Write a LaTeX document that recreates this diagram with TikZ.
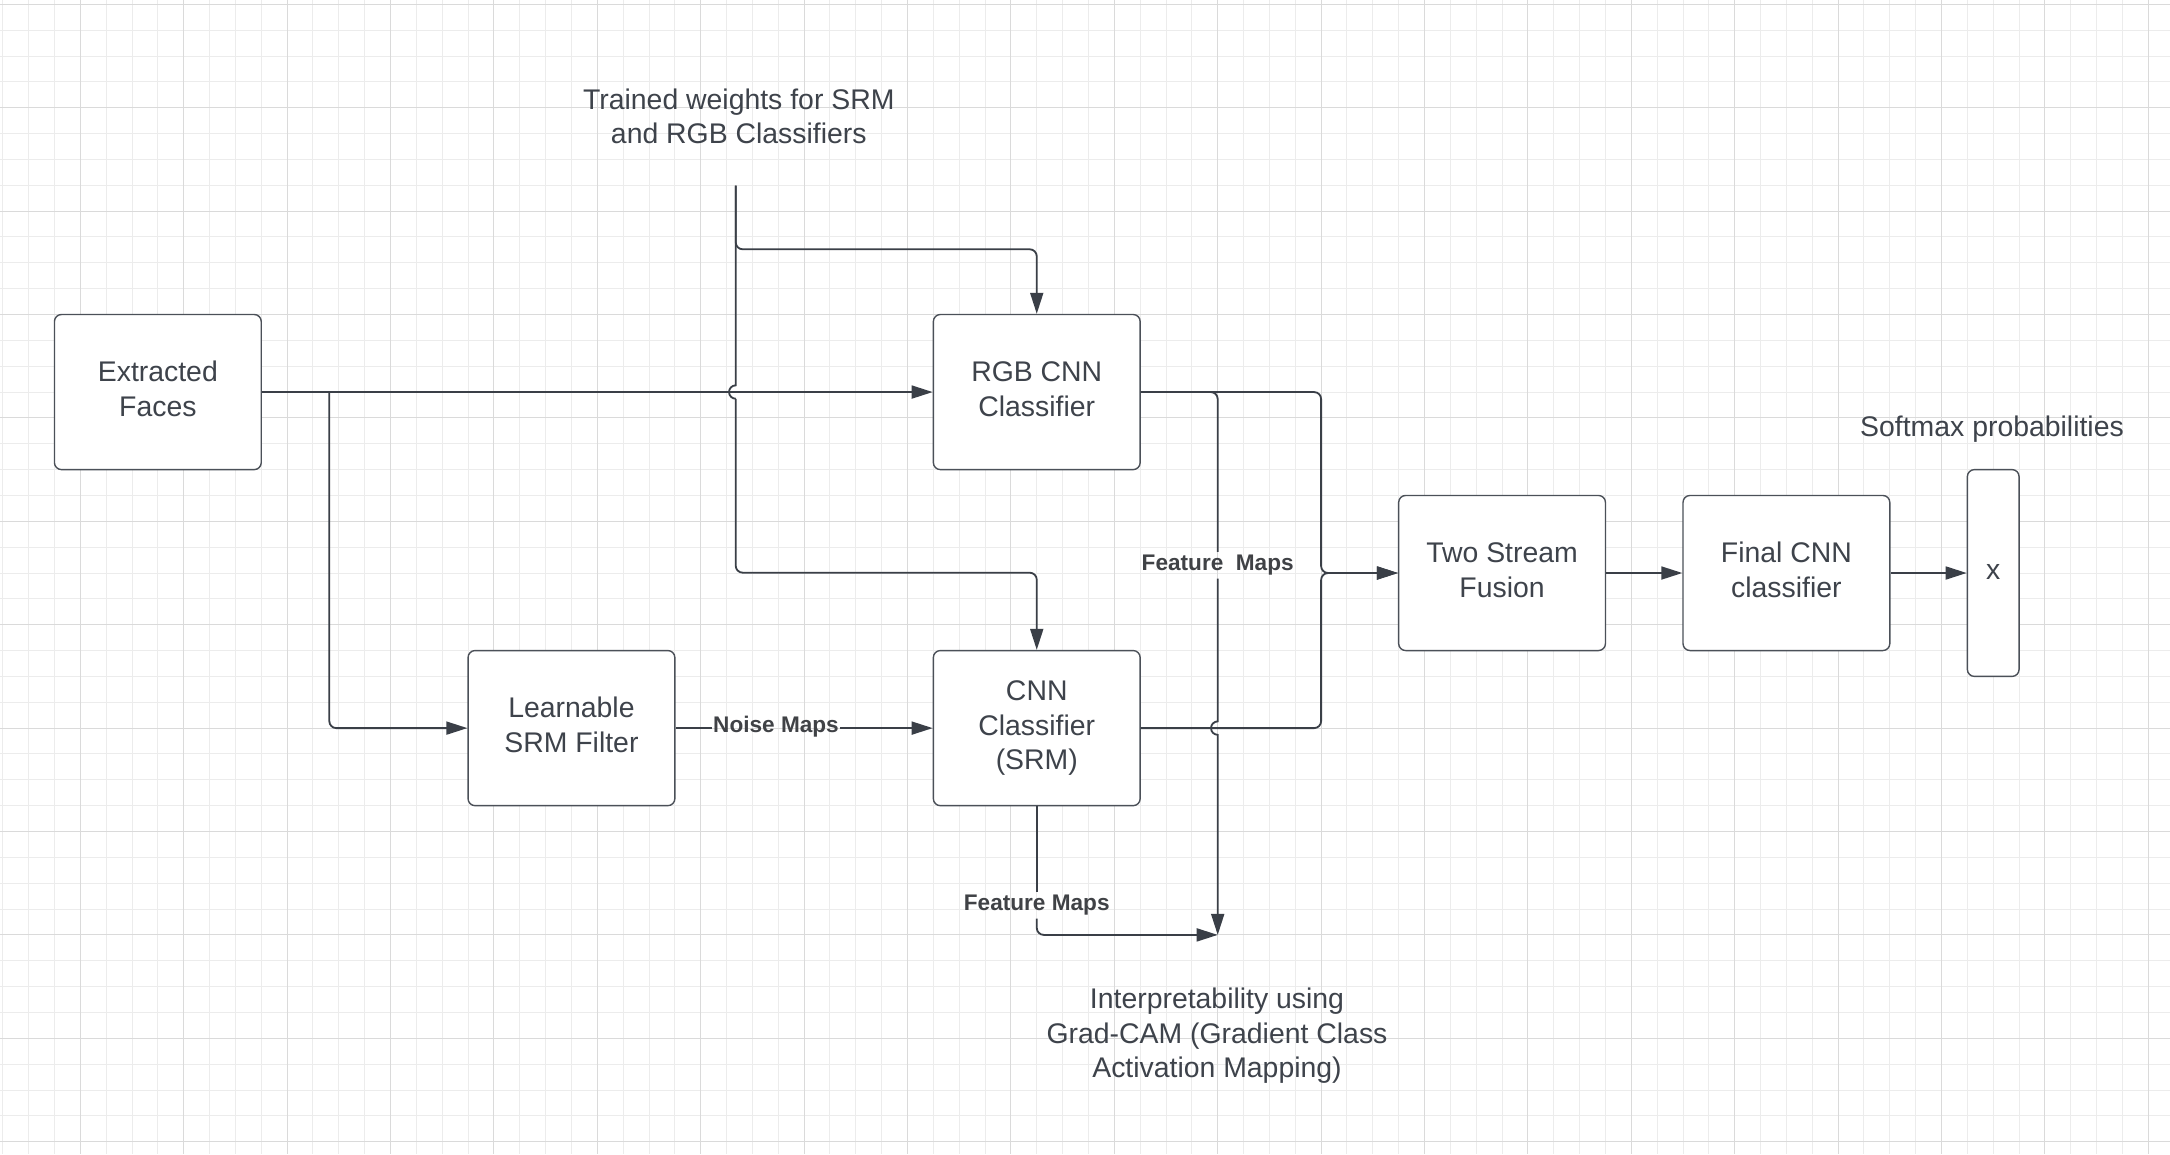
\documentclass[tikz,border=0pt]{standalone}
\usepackage{fontspec}
\setmainfont{Liberation Sans}
\usetikzlibrary{arrows.meta}
\definecolor{gridminor}{RGB}{236,236,236}
\definecolor{gridmajor}{RGB}{218,218,218}
\definecolor{linecol}{RGB}{58,63,71}
\definecolor{boxcol}{RGB}{75,80,88}
\definecolor{txtcol}{RGB}{62,67,75}
\definecolor{lblcol}{RGB}{64,66,70}
\begin{document}
\begin{tikzpicture}[x=1pt,y=-1pt,
  blk/.style={draw=boxcol, line width=1.4pt, rounded corners=7pt, fill=white,
    minimum width=206.8pt, minimum height=155.1pt, inner sep=0pt, align=center,
    text=txtcol, font=\fontsize{28.4}{34.5}\selectfont},
  txt/.style={inner sep=0pt, align=center, text=txtcol, font=\fontsize{28.4}{34.5}\selectfont},
  lbl/.style={inner xsep=1pt, inner ysep=3pt, text=lblcol, font=\bfseries\fontsize{22.6}{27}\selectfont},
  conn/.style={draw=linecol, line width=1.8pt},
  arr/.style={-{Triangle[length=21pt,width=13pt]}},
  gmin/.style={draw=gridminor, line width=1pt},
  gmaj/.style={draw=gridmajor, line width=1.3pt}]
\useasboundingbox (0,0) rectangle (2170,1154);
\fill[white] (0,0) rectangle (2170,1154);
% grid (snapped to pixel centres)
\foreach \k in {0,...,83} \draw[gmin] ({floor(2.75+25.85*\k)+0.5},0) -- ({floor(2.75+25.85*\k)+0.5},1154);
\foreach \j in {0,...,44} \draw[gmin] (0,{floor(4.3+25.85*\j)+0.5}) -- (2170,{floor(4.3+25.85*\j)+0.5});
\foreach \m in {0,...,20} \draw[gmaj] ({floor(80.3+103.4*\m)+0.5},0) -- ({floor(80.3+103.4*\m)+0.5},1154);
\foreach \m in {0,...,11} \draw[gmaj] (0,{floor(4.3+103.4*\m)+0.5}) -- (2170,{floor(4.3+103.4*\m)+0.5});

% boxes
\node[blk] (faces) at (157.85,392.05) {\strut Extracted\\Faces\strut};
\node[blk] (rgb) at (1036.75,392.05) {\strut RGB CNN\\Classifier\strut};
\node[blk] (srmf) at (571.45,728.1) {\strut Learnable\\SRM Filter\strut};
\node[blk] (srmcnn) at (1036.75,728.1) {\strut CNN\\Classifier\\(SRM)\strut};
\node[blk] (fusion) at (1502.05,573) {\strut Two Stream\\Fusion\strut};
\node[blk] (final) at (1786.4,573) {\strut Final CNN\\classifier\strut};
\node[blk, minimum width=51.7pt, minimum height=206.8pt] (xbox) at (1993.2,573) {\strut x\strut};

% free texts
\node[txt, anchor=north] (wtxt) at (738.8,84.85) {\strut Trained weights for SRM\\and RGB Classifiers\strut};
\node[txt, anchor=base] (soft) at (1992,436.7) {Softmax probabilities};
\node[txt] (gcam) at (1217,1036.5) {\strut Interpretability using\\Grad-CAM (Gradient Class\\Activation Mapping)\strut};

% connector labels
\node[lbl, anchor=base] (fm1) at (1217.7,570.7) {Feature\ \ Maps};
\node[lbl, anchor=base] (fm2) at (1036.75,910.7) {Feature Maps};
\node[lbl, anchor=base] (nm) at (776,732.5) {Noise Maps};

% coordinates
\coordinate (br) at (329.3,392.05);
\coordinate (wt) at (735.7,185.7);
\coordinate (wb) at (735.7,249.3);
\coordinate (wh) at (735.7,398.75);
\coordinate (gc) at (1217.7,934.9);

% Extracted faces -> RGB and -> SRM filter
\draw[conn,arr] (faces.east) -- (rgb.west);
\draw[conn,arr,rounded corners=7pt] (br) -- (br |- srmf.west) -- (srmf.west);

% SRM filter -> CNN (SRM)
\draw[conn] (srmf.east) -- (nm.west |- srmf.east);
\draw[conn,arr] (nm.east |- srmf.east) -- (srmcnn.west);

% trained weights
\draw[conn,arr,rounded corners=7pt] (wt) -- (wb) -- (wb -| rgb.north) -- (rgb.north);
\draw[conn] (wt) -- (735.7,385.35) .. controls (732,385.35) and (729,388.35) .. (729,392.05)
   .. controls (729,395.75) and (732,398.75) .. (wh);
\draw[conn,arr,rounded corners=7pt] (wh) -- (735.7,572.7) -- (1036.75,572.7) -- (srmcnn.north);

% to fusion
\draw[conn,arr,rounded corners=7pt] (rgb.east) -- (1321.1,392.05) -- (1321.1,573) -- (fusion.west);
\draw[conn,arr,rounded corners=7pt] (srmcnn.east) -- (1321.1,728.1) -- (1321.1,573) -- (fusion.west);

% feature maps to Grad-CAM
\draw[conn,rounded corners=7pt] (rgb.east) -- (1217.7,392.05) -- (fm1.north);
\draw[conn,arr] (fm1.south) -- (1217.7,721.4) .. controls (1214,721.4) and (1211,724.4) .. (1211,728.1)
   .. controls (1211,731.8) and (1214,734.8) .. (1217.7,734.8) -- (gc);
\draw[conn] (srmcnn.south) -- (fm2.north);
\draw[conn,arr,rounded corners=7pt] (fm2.south) -- (fm2.south |- gc) -- (gc);

% fusion -> final -> softmax
\draw[conn,arr] (fusion.east) -- (final.west);
\draw[conn,arr] (final.east) -- (xbox.west);
\end{tikzpicture}
\end{document}
